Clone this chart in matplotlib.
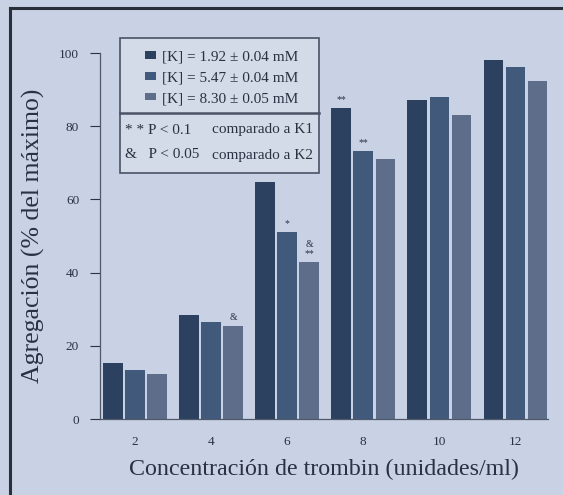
import numpy as np
import matplotlib
matplotlib.use("Agg")
import matplotlib.pyplot as plt
from matplotlib.patches import Rectangle
from matplotlib.lines import Line2D

plt.rcParams['font.family'] = ['Liberation Serif', 'DejaVu Serif']

concentraciones = ['2', '4', '6', '8', '10', '12']
k1 = [15.3, 28.5, 64.8, 84.9, 87.1, 98.0]
k2 = [13.3, 26.6, 51.1, 73.2, 88.1, 96.1]
k3 = [12.2, 25.5, 42.9, 71.0, 83.1, 92.3]
series_labels = ['[K] = 1.92 ± 0.04 mM', '[K] = 5.47 ± 0.04 mM', '[K] = 8.30 ± 0.05 mM']

# (grupo, serie, texto)
marcas = [(1, 2, '&'), (2, 1, '*'), (2, 2, '&\n**'), (3, 0, '**'), (3, 1, '**')]

bg = '#c8d2e4'
txt = '#2a3142'
colores = ['#2c4060', '#41597b', '#5d6d8a']

W, H = 563, 495
fig = plt.figure(figsize=(W / 100, H / 100), dpi=100, facecolor=bg)

def px(x0, y0, x1, y1):
    # caja en pixeles (origen arriba-izq) -> fraccion de figura
    return [x0 / W, 1 - y1 / H, (x1 - x0) / W, (y1 - y0) / H]

ax = fig.add_axes(px(100, 53, 548, 419))
ax.set_facecolor(bg)

x = np.arange(len(concentraciones))
ancho = 0.255
paso = 0.29
datos = [k1, k2, k3]
for i, (vals, c) in enumerate(zip(datos, colores)):
    ax.bar(x + (i - 1) * paso, vals, ancho, color=c, label=series_labels[i], zorder=2)

for g, s, t in marcas:
    ax.text(x[g] + (s - 1) * paso, datos[s][g] + 1.0, t, ha='center', va='bottom',
            fontsize=7, color=txt, linespacing=1.0)

ax.set_xlim(-0.46, 5.43)
ax.set_ylim(0, 100)
ax.set_xticks(x)
ax.set_xticklabels(concentraciones)
ax.set_yticks([0, 20, 40, 60, 80, 100])
ax.tick_params(axis='x', length=0, pad=12, labelsize=9.5, colors=txt)
ax.tick_params(axis='y', length=7, width=0.8, pad=8, labelsize=9.5, colors=txt, direction='out')
for side in ['top', 'right']:
    ax.spines[side].set_visible(False)
for side in ['left', 'bottom']:
    ax.spines[side].set_color('#50596a')
    ax.spines[side].set_linewidth(0.9)

ax.set_xlabel('Concentración de trombin (unidades/ml)', fontsize=17.3, color=txt, labelpad=8)
ax.set_ylabel('Agregación (% del máximo)', fontsize=18.5, color=txt, labelpad=10)

# caja de leyenda
r = px(120, 38, 319, 173)
fig.add_artist(Rectangle(r[:2], r[2], r[3], transform=fig.transFigure, facecolor='#d3dbe8',
                         edgecolor='#4a5366', linewidth=1.2, zorder=5))
fig.add_artist(Line2D([120 / W, 319 / W], [1 - 113 / H] * 2, transform=fig.transFigure,
                      color='#4a5366', linewidth=1.8, zorder=6))
handles, labels = ax.get_legend_handles_labels()
leg = fig.legend(handles, labels, loc='upper left', bbox_to_anchor=(131 / W, 1 - 37 / H),
                 bbox_transform=fig.transFigure, frameon=False, fontsize=11,
                 handlelength=0.75, handleheight=0.4, handletextpad=0.4,
                 labelspacing=0.5, labelcolor=txt)
leg.set_zorder(7)
fig.text(125 / W, 1 - 130 / H, '* * P < 0.1', fontsize=11, color=txt, va='center', zorder=7)
fig.text(212 / W, 1 - 130 / H, 'comparado a K1', fontsize=11, color=txt, va='center', zorder=7)
fig.text(125 / W, 1 - 155 / H, '&   P < 0.05', fontsize=11, color=txt, va='center', zorder=7)
fig.text(212 / W, 1 - 155 / H, 'comparado a K2', fontsize=11, color=txt, va='center', zorder=7)

# marco del escaneo
fig.add_artist(Line2D([10 / W, 1], [1 - 8 / H] * 2, transform=fig.transFigure,
                      color='#2b2f38', linewidth=2.2))
fig.add_artist(Line2D([10 / W] * 2, [0, 1 - 8 / H], transform=fig.transFigure,
                      color='#2b2f38', linewidth=2.2))

fig.savefig('out.png', dpi=100, facecolor=bg)
